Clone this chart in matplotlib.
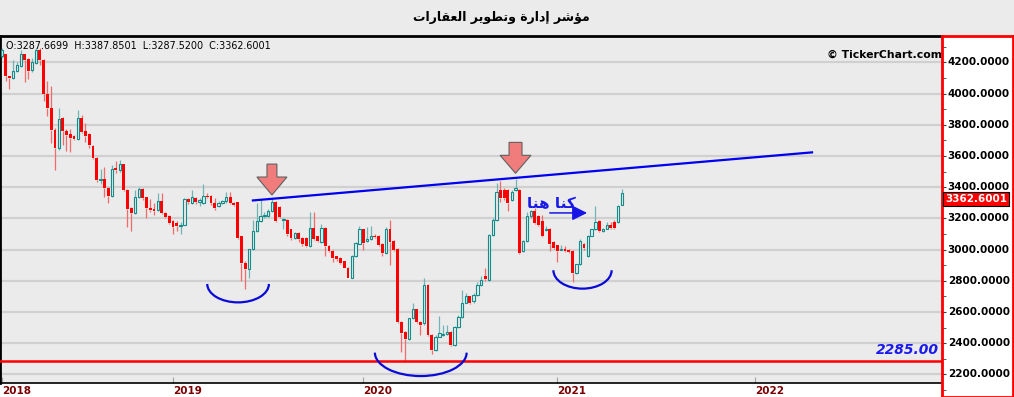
import numpy as np
import matplotlib
matplotlib.use('Agg')
import matplotlib.pyplot as plt
from matplotlib.patches import Arc, FancyArrow, Rectangle
from matplotlib.transforms import blended_transform_factory

plt.rcParams['font.family'] = ['DejaVu Sans']

# weekly candles, oldest first
OPENS = [4239, 4250, 4110, 4100, 4142, 4178, 4250, 4223, 4149, 4196,
         4281, 4213, 3997, 3907, 3768, 3650, 3843, 3763, 3742, 3729,
         3708, 3843, 3757, 3740, 3665, 3590, 3443, 3453, 3397, 3342,
         3521, 3510, 3547, 3382, 3265, 3233, 3335, 3389, 3335, 3265,
         3262, 3254, 3314, 3233, 3215, 3182, 3170, 3150, 3160, 3324,
         3300, 3330, 3303, 3300, 3345, 3345, 3298, 3278, 3300, 3310,
         3340, 3298, 3302, 3086, 2917, 2874, 3001, 3118, 3182, 3213,
         3218, 3245, 3302, 3270, 3190, 3192, 3130, 3076, 3108, 3076,
         3076, 3023, 3140, 3086, 3050, 3140, 3023, 2991, 2959, 2948,
         2927, 2885, 2821, 2959, 3039, 3129, 3054, 3069, 3090, 3086,
         3039, 2979, 3129, 3054, 3004, 2539, 2475, 2425, 2560, 2618,
         2539, 2528, 2775, 2453, 2357, 2443, 2450, 2460, 2475, 2389,
         2503, 2571, 2661, 2700, 2668, 2711, 2775, 2830, 2803, 3096,
         3192, 3379, 3383, 3383, 3319, 3383, 3383, 2990, 3054, 3213,
         3245, 3213, 3182, 3126, 3133, 3048, 3027, 3000, 3006, 3000,
         2991, 2853, 2906, 3033, 2959, 3090, 3129, 3182, 3118, 3135,
         3155, 3175, 3175, 3287.6699]
HIGHS = [4290, 4255, 4115, 4217, 4200, 4281, 4255, 4230, 4230, 4290,
         4290, 4220, 4080, 4050, 3780, 3907, 3850, 3770, 3770, 3735,
         3897, 3865, 3810, 3745, 3670, 3595, 3517, 3530, 3400, 3540,
         3570, 3575, 3550, 3390, 3270, 3380, 3400, 3395, 3340, 3325,
         3300, 3365, 3365, 3240, 3220, 3190, 3185, 3175, 3330, 3330,
         3383, 3340, 3330, 3421, 3360, 3350, 3330, 3310, 3320, 3370,
         3370, 3305, 3305, 3090, 2925, 3005, 3190, 3298, 3320, 3240,
         3260, 3325, 3310, 3280, 3200, 3198, 3135, 3115, 3112, 3080,
         3080, 3240, 3240, 3090, 3165, 3145, 3030, 2995, 2962, 2952,
         2930, 2890, 2965, 3050, 3150, 3135, 3145, 3150, 3100, 3095,
         3045, 3146, 3190, 3060, 3010, 2545, 2480, 2565, 2660, 2622,
         2545, 2818, 2780, 2460, 2450, 2575, 2520, 2520, 2480, 2510,
         2580, 2740, 2720, 2705, 2720, 2790, 2830, 2882, 3100, 3200,
         3425, 3437, 3395, 3390, 3380, 3455, 3390, 3060, 3240, 3255,
         3267, 3220, 3220, 3150, 3138, 3052, 3030, 3030, 3020, 3005,
         2995, 2910, 3065, 3040, 3095, 3135, 3277, 3190, 3140, 3180,
         3175, 3190, 3285, 3387.8501]
LOWS = [4230, 4078, 4029, 4095, 4138, 4170, 4071, 4090, 4140, 4190,
        4185, 3954, 3853, 3682, 3511, 3640, 3672, 3629, 3627, 3700,
        3700, 3745, 3690, 3650, 3580, 3432, 3420, 3340, 3300, 3335,
        3490, 3500, 3375, 3147, 3119, 3225, 3330, 3320, 3200, 3240,
        3220, 3250, 3228, 3205, 3165, 3103, 3120, 3100, 3155, 3295,
        3295, 3290, 3280, 3290, 3330, 3285, 3255, 3270, 3290, 3300,
        3290, 3280, 3070, 2800, 2747, 2820, 2995, 3110, 3175, 3200,
        3210, 3240, 3175, 3200, 3130, 3090, 3060, 3070, 3050, 3025,
        3015, 3018, 3060, 3050, 3045, 2960, 2985, 2920, 2930, 2910,
        2880, 2815, 2815, 2950, 3035, 3000, 3050, 3060, 3075, 3025,
        2957, 2975, 2900, 2990, 2530, 2346, 2282, 2420, 2555, 2530,
        2450, 2520, 2445, 2329, 2350, 2438, 2445, 2455, 2380, 2385,
        2498, 2565, 2655, 2650, 2660, 2705, 2770, 2800, 2798, 3090,
        3185, 3305, 3320, 3245, 3310, 3375, 2975, 2985, 3050, 3205,
        3165, 3150, 3080, 3120, 2990, 3005, 2920, 2995, 2985, 2980,
        2794, 2845, 2900, 3000, 2955, 3085, 3125, 3110, 3112, 3130,
        3135, 3135, 3170, 3287.5200]
CLOSES = [4281, 4110, 4097, 4142, 4185, 4250, 4217, 4142, 4200, 4281,
          4213, 3997, 3907, 3768, 3650, 3836, 3757, 3736, 3714, 3708,
          3843, 3751, 3729, 3671, 3588, 3443, 3453, 3393, 3346, 3517,
          3510, 3547, 3382, 3258, 3233, 3335, 3389, 3329, 3265, 3254,
          3250, 3314, 3233, 3211, 3173, 3146, 3150, 3160, 3324, 3303,
          3340, 3303, 3315, 3345, 3337, 3298, 3265, 3298, 3310, 3340,
          3298, 3287, 3076, 2917, 2874, 3001, 3118, 3182, 3213, 3220,
          3245, 3302, 3182, 3210, 3195, 3097, 3076, 3108, 3065, 3033,
          3023, 3140, 3066, 3055, 3140, 3023, 2991, 2948, 2938, 2917,
          2885, 2821, 2959, 3044, 3129, 3043, 3069, 3090, 3082, 3032,
          2979, 3129, 3047, 3000, 2539, 2464, 2425, 2560, 2618, 2539,
          2518, 2775, 2453, 2357, 2443, 2464, 2460, 2470, 2389, 2503,
          2571, 2661, 2700, 2661, 2711, 2775, 2803, 2810, 3096, 3192,
          3372, 3330, 3330, 3298, 3372, 3392, 2980, 3054, 3213, 3245,
          3171, 3160, 3086, 3130, 3033, 3012, 2991, 3006, 2989, 2985,
          2853, 2906, 3054, 3008, 3090, 3129, 3175, 3118, 3135, 3155,
          3140, 3140, 3277, 3362.6001]

YEARS = ['2018', '2019', '2020', '2021', '2022']
YEAR_BARS = [0.0, 45.0, 94.9, 145.9, 197.9]   # bar index where each year starts
PRICE_TICKS = list(range(2200, 4201, 200))
SUPPORT = 2285.00
TREND_X = [66.0, 212.9]
TREND_Y = [3315, 3623]
# smile curves: (center bar, top price, full width in bars, depth in price)
SMILES = [(62.1, 2780, 16.2, 118), (110.1, 2340, 24.1, 150), (152.6, 2868, 15.3, 118)]
# red down arrows: (bar, tip price, length, shaft, head width, head length)
DOWN_ARROWS = [(71.0, 3350, 198, 2.6, 7.9, 115), (135.0, 3489, 198, 3.4, 8.1, 115)]
TITLE = 'مؤشر إدارة وتطوير العقارات'
NOTE = 'كنا هنا'

BG = '#EBEBEB'
RED = '#FF0000'
TEAL = '#138C8C'

# glyph forms: isolated, final, initial, medial (None = no joining to the next letter)
FORMS = {
    'ا': ('\uFE8D', '\uFE8E', None, None),
    'إ': ('\uFE87', '\uFE88', None, None),
    'ؤ': ('\uFE85', '\uFE86', None, None),
    'ة': ('\uFE93', '\uFE94', None, None),
    'د': ('\uFEA9', '\uFEAA', None, None),
    'ر': ('\uFEAD', '\uFEAE', None, None),
    'و': ('\uFEED', '\uFEEE', None, None),
    'ت': ('\uFE95', '\uFE96', '\uFE97', '\uFE98'),
    'ش': ('\uFEB5', '\uFEB6', '\uFEB7', '\uFEB8'),
    'ط': ('\uFEC1', '\uFEC2', '\uFEC3', '\uFEC4'),
    'ع': ('\uFEC9', '\uFECA', '\uFECB', '\uFECC'),
    'ق': ('\uFED5', '\uFED6', '\uFED7', '\uFED8'),
    'ك': ('\uFED9', '\uFEDA', '\uFEDB', '\uFEDC'),
    'ل': ('\uFEDD', '\uFEDE', '\uFEDF', '\uFEE0'),
    'م': ('\uFEE1', '\uFEE2', '\uFEE3', '\uFEE4'),
    'ن': ('\uFEE5', '\uFEE6', '\uFEE7', '\uFEE8'),
    'ه': ('\uFEE9', '\uFEEA', '\uFEEB', '\uFEEC'),
    'ي': ('\uFEF1', '\uFEF2', '\uFEF3', '\uFEF4'),
}


def shape_arabic(text):
    # matplotlib has no arabic shaping, so pick joined forms by hand and flip the order
    out = []
    for k, ch in enumerate(text):
        if ch not in FORMS:
            out.append(ch)
            continue
        prev = text[k - 1] if k > 0 else ''
        nxt = text[k + 1] if k + 1 < len(text) else ''
        join_prev = prev in FORMS and FORMS[prev][2] is not None
        join_next = nxt in FORMS and FORMS[ch][2] is not None
        iso, fin, ini, med = FORMS[ch]
        if join_prev and join_next:
            out.append(med)
        elif join_prev:
            out.append(fin)
        elif join_next:
            out.append(ini)
        else:
            out.append(iso)
    return ''.join(reversed(out))


W, H = 1014, 397
fig = plt.figure(figsize=(W / 100, H / 100), dpi=100, facecolor=BG)
ax = fig.add_axes([0, 14 / H, 942 / W, 347 / H], facecolor=BG)

x = np.arange(len(CLOSES))
o = np.array(OPENS)
hi = np.array(HIGHS)
lo = np.array(LOWS)
c = np.array(CLOSES)
up = c >= o
top = np.maximum(o, c)
bot = np.minimum(o, c)

wick_col = np.where(up, '#72B4B4', '#F26A6A')
ax.vlines(x, top, hi, colors=wick_col, lw=0.9, zorder=3)
ax.vlines(x, lo, bot, colors=wick_col, lw=0.9, zorder=3)
ax.bar(x[~up], (top - bot)[~up], bottom=bot[~up], width=0.75, color=RED, lw=0, zorder=4)
ax.bar(x[up], np.maximum((top - bot)[up], 4), bottom=bot[up], width=0.62, facecolor=BG,
       edgecolor=TEAL, lw=0.8, zorder=4)

ax.set_xlim(-0.45, 247.05)
ax.set_ylim(2145.5, 4368.5)

ax.set_yticks(PRICE_TICKS)
ax.grid(axis='y', color='#D0D0D0', lw=1.6, zorder=0)
ax.tick_params(axis='y', left=False, labelleft=False)
ax.set_xticks(YEAR_BARS)
ax.set_xticklabels(YEARS, color='#7A0000', fontsize=7.5, fontweight='bold')
for lbl in ax.get_xticklabels():
    lbl.set_ha('left')
ax.tick_params(axis='x', direction='in', length=4, color='#A0A0A0', pad=2.5)
for s in ['top', 'left']:
    ax.spines[s].set_linewidth(2)
    ax.spines[s].set_color('black')
ax.spines['bottom'].set_linewidth(1.2)
ax.spines['right'].set_visible(False)

# support line and trend line
ax.axhline(SUPPORT, color=RED, lw=1.8, zorder=5)
tr = blended_transform_factory(ax.transAxes, ax.transData)
ax.text(0.997, SUPPORT + 30, f'{SUPPORT:.2f}', transform=tr, ha='right', va='bottom',
        color='#1A1AF0', fontsize=10, fontweight='bold', fontstyle='italic')
ax.plot(TREND_X, TREND_Y, color='#0000F0', lw=1.6, zorder=6)

for cx, cy, w, d in SMILES:
    ax.add_patch(Arc((cx, cy), w, 2 * d, theta1=180, theta2=360, color='#0A0AD8', lw=1.6, zorder=6))

for bx, tip, length, shaft, hw, hl in DOWN_ARROWS:
    ax.add_patch(FancyArrow(bx, tip + length, 0, -length, width=shaft, head_width=hw,
                            head_length=hl, length_includes_head=True,
                            facecolor='#F07C7C', edgecolor='#606060', lw=0.8, zorder=7))

ax.text(144.3, 3295, shape_arabic(NOTE), ha='center', va='center', color='#1A1AE6',
        fontsize=11, fontweight='bold', zorder=7)
ax.annotate('', xy=(153.8, 3235), xytext=(144.0, 3235),
            arrowprops=dict(arrowstyle='-|>,head_length=0.9,head_width=0.45', color='#1515E6',
                            lw=1.1, shrinkA=0, shrinkB=0), zorder=7)

ax.text(0.006, 0.985, 'O:3287.6699  H:3387.8501  L:3287.5200  C:3362.6001', transform=ax.transAxes,
        ha='left', va='top', fontsize=6.9, color='black')
ax.text(1.0, 0.945, '© TickerChart.com', transform=ax.transAxes, ha='right', va='center',
        fontsize=7.8, fontweight='bold', color='black')

# white strip under the plot for the year labels
fig.patches.append(Rectangle((0, 0), 942 / W, 14 / H, transform=fig.transFigure,
                             facecolor='white', edgecolor='none', zorder=-1))

# price scale panel on the right
pax = fig.add_axes([942 / W, 0, 71 / W, 361 / H], facecolor='white')
pax.set_xlim(0, 1)
pax.set_ylim(2055.8, 4368.5)
for s in pax.spines.values():
    s.set_color(RED)
    s.set_linewidth(2)
pax.set_xticks([])
pax.set_yticks(PRICE_TICKS)
pax.set_yticks(range(2100, 4301, 100), minor=True)
pax.tick_params(axis='y', which='both', direction='in', length=3, color='#404040',
                labelleft=False)
for p in PRICE_TICKS:
    pax.text(0.08, p, f'{p:.4f}', ha='left', va='center', fontsize=7.5, fontweight='bold')
pax.text(0.04, CLOSES[-1] - 8, f'{CLOSES[-1]:.4f}', ha='left', va='top', fontsize=7.5,
         fontweight='bold', color='white',
         bbox=dict(boxstyle='square,pad=0.2', facecolor=RED, edgecolor='black', lw=0.8))

fig.text(501 / W, 1 - 18 / H, shape_arabic(TITLE), ha='center', va='center', fontsize=9,
         fontweight='bold')

fig.savefig('out.png', dpi=100, facecolor=BG)
